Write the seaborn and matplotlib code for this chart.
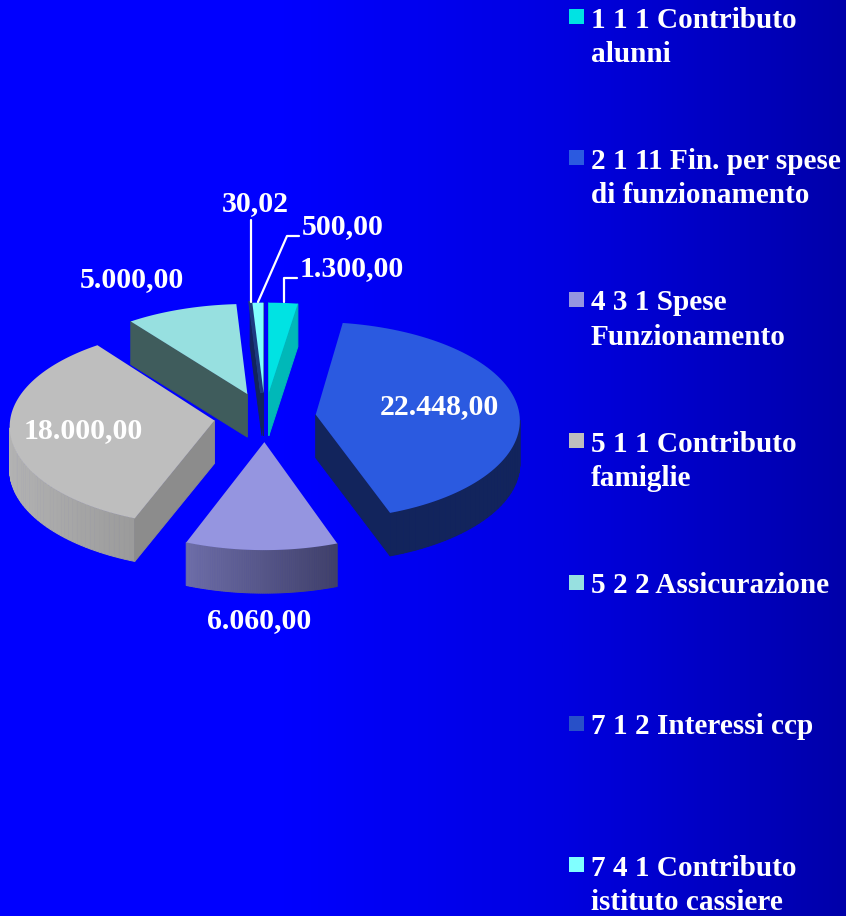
import numpy as np
import matplotlib
matplotlib.use('Agg')
import matplotlib.pyplot as plt
import seaborn as sns
from matplotlib.patches import Rectangle

# dati
voci = ['1 1 1 Contributo\nalunni', '2 1 11 Fin. per spese\ndi funzionamento', '4 3 1 Spese\nFunzionamento',
        '5 1 1 Contributo\nfamiglie', '5 2 2 Assicurazione', '7 1 2 Interessi ccp', '7 4 1 Contributo\nistituto cassiere']
valori = [1300.00, 22448.00, 6060.00, 18000.00, 5000.00, 30.02, 500.00]

# stile
colori = ['#00E3E3', '#2B5AE0', '#9595E0', '#BEBEBE', '#97E0E0', '#2850C8', '#80FFFF']
lati_chiari = ['#00B8B8', '#12245C', '#6E6EA8', '#B2B2B2', '#3F5C5C', '#12245C', '#12245C']
lati_scuri = ['#00B8B8', '#12245C', '#40406A', '#8C8C8C', '#3F5C5C', '#12245C', '#12245C']
pos_etichette = [(352, 269), (439, 407), (259, 621), (83, 431), (132, 280), (255, 204), (343, 227)]
PROF = 43

sns.set_theme(style='white')
plt.rcParams['font.family'] = ['Liberation Serif', 'DejaVu Serif']
plt.rcParams['font.weight'] = 'bold'

fig = plt.figure(figsize=(8.46, 9.16), dpi=100)
ax = fig.add_axes([0, 0, 1, 1])

# sfondo sfumato
cmap_sfondo = sns.blend_palette(['#0000FF', '#0000FF', '#0000E0', '#0000AA'], as_cmap=True)
ax.imshow(np.linspace(0, 1, 400).reshape(1, -1), cmap=cmap_sfondo, extent=(0, 846, 916, 0), aspect='auto', zorder=0)

fette, _ = ax.pie(valori, explode=[0.25] * 7, startangle=90, counterclock=False, colors=colori)


def proietta(x, y):
    # torta inclinata con un po' di prospettiva
    X = 265 + 204 * x * (1 - 0.05 * y)
    Y = 417 - (99 * y - 6 * y * y)
    return X, Y


for i, w in enumerate(fette):
    t = np.radians(np.linspace(w.theta1, w.theta2, 80))
    px = np.r_[w.center[0], w.center[0] + w.r * np.cos(t)]
    py = np.r_[w.center[1], w.center[1] + w.r * np.sin(t)]
    w.remove()
    X, Y = proietta(px, py)
    cm = sns.blend_palette([lati_chiari[i], lati_scuri[i]], as_cmap=True)
    xa, xb = X.min(), X.max()
    n = len(X)
    # lati visibili
    for k in range(n):
        j = (k + 1) % n
        if X[j] <= X[k]:
            continue
        radiale = k == 0 or j == 0
        col = lati_scuri[i] if radiale else cm((0.5 * (X[k] + X[j]) - xa) / (xb - xa))
        ax.fill([X[k], X[j], X[j], X[k]], [Y[k], Y[j], Y[j] + PROF, Y[k] + PROF],
                color=col, lw=0.7, zorder=2)
    if valori[i] < 100:
        ax.fill(X, Y, facecolor='#1C3A80', edgecolor='#1C3A80', lw=2.5, zorder=3)
    else:
        ax.fill(X, Y, facecolor=colori[i], edgecolor='none', zorder=3)

# etichette valori
for v, (x, y) in zip(valori, pos_etichette):
    txt = f'{v:,.2f}'.replace(',', ' ').replace('.', ',').replace(' ', '.')
    ax.text(x, y, txt, color='white', fontsize=21.5, fontweight='bold', ha='center', va='center', zorder=5)

# linee guida
ax.plot([251, 251], [220, 302], color='white', lw=1.6, zorder=4)
ax.plot([258, 287, 299], [302, 236, 236], color='white', lw=1.6, zorder=4)
ax.plot([284, 284, 297], [302, 278, 278], color='white', lw=1.6, zorder=4)

# legenda
for i, voce in enumerate(voci):
    yc = 16.5 + 141.4 * i
    ax.add_patch(Rectangle((569, yc - 7.5), 15, 15, facecolor=colori[i], edgecolor='none', zorder=4))
    ax.text(591, yc - 10, voce, color='white', fontsize=21.1, fontweight='bold', ha='left', va='top',
            linespacing=1.35, zorder=5)

ax.set_aspect('auto')
ax.set_xlim(0, 846)
ax.set_ylim(916, 0)
ax.axis('off')
fig.savefig('out.png', dpi=100)
